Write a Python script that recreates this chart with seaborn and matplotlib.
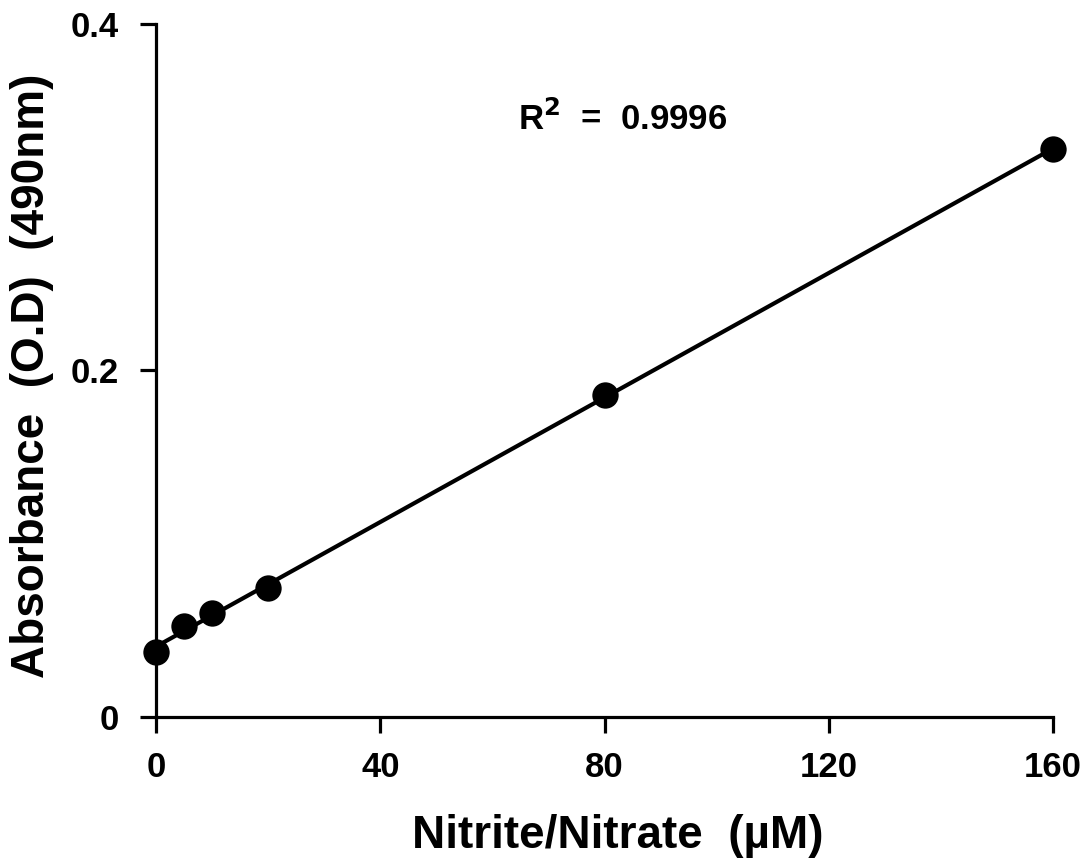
import matplotlib
matplotlib.use("Agg")
import matplotlib.pyplot as plt
import seaborn as sns
import pandas as pd

# standard curve readings
concentration = [0, 5, 10, 20, 80, 160]
absorbance = [0.0376, 0.0526, 0.0598, 0.0742, 0.1855, 0.3276]
x_ticks = [0, 40, 80, 120, 160]
y_ticks = [0, 0.2, 0.4]
y_tick_labels = ["0", "0.2", "0.4"]
r2_text = "R$^\\mathbf{2}$  =  0.9996"

sns.set_theme(style="ticks", rc={'text.color': 'black', 'axes.labelcolor': 'black',
                                 'xtick.color': 'black', 'ytick.color': 'black'})
plt.rcParams['font.family'] = ['Liberation Sans', 'DejaVu Sans']
plt.rcParams['font.weight'] = 'bold'
plt.rcParams['mathtext.default'] = 'bf'

df = pd.DataFrame({'conc': concentration, 'od': absorbance})

fig = plt.figure(figsize=(10.88, 8.61), dpi=100)
ax = fig.add_axes([156 / 1088, 1 - 716.7 / 861, (1053 - 156) / 1088, (716.7 - 24) / 861])

sns.regplot(data=df, x='conc', y='od', ax=ax, ci=None, truncate=True, color='black',
            scatter_kws={'s': 360, 'alpha': 1, 'edgecolor': 'black', 'linewidths': 0,
                         'zorder': 3, 'clip_on': False},
            line_kws={'linewidth': 3.0, 'clip_on': False})

ax.set_xlim(0, 160)
ax.set_ylim(0, 0.4)
ax.set_xticks(x_ticks)
ax.set_xticklabels([str(t) for t in x_ticks])
ax.set_yticks(y_ticks)
ax.set_yticklabels(y_tick_labels)
ax.set_xlabel('')
ax.set_ylabel('')

for side in ['top', 'right']:
    ax.spines[side].set_visible(False)
for side in ['left', 'bottom']:
    ax.spines[side].set_linewidth(2.3)
    ax.spines[side].set_color('black')
ax.tick_params(axis='both', direction='out', length=11.5, width=2.3, colors='black',
               labelsize=25)
ax.tick_params(axis='x', pad=13)
ax.tick_params(axis='y', pad=15)
for lab in ax.get_xticklabels() + ax.get_yticklabels():
    lab.set_fontweight('bold')
ax.patch.set_alpha(0)

ax.text(64.6, 0.339, r2_text, fontsize=25, fontweight='bold', ha='left', va='baseline')

fig.text(618 / 1088, 1 - 848 / 861, 'Nitrite/Nitrate  (µM)', fontsize=33, fontweight='bold',
         ha='center', va='baseline')
fig.text(32 / 1088, 1 - 376 / 861, 'Absorbance  (O.D)  (490nm)', fontsize=33, fontweight='bold',
         ha='center', va='center', rotation=90)

fig.savefig('out.png', dpi=100)
